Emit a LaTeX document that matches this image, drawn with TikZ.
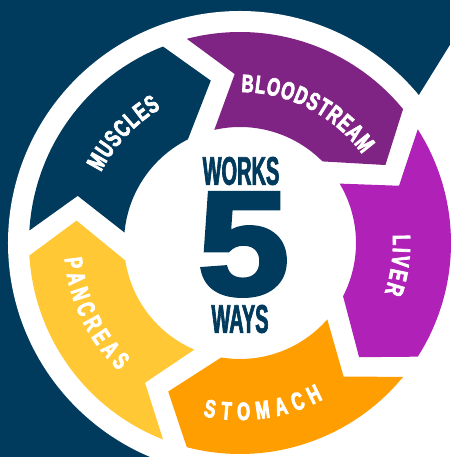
\documentclass[tikz,border=0pt]{standalone}
\usepackage{fontspec}
\setmainfont{Liberation Sans}
\newfontfamily\lblfont[FakeStretch=0.67,FakeBold=3]{Liberation Sans}
\newfontfamily\ctrfont[FakeStretch=0.5,FakeBold=1.6]{Liberation Sans}
\newfontfamily\fivefont[FakeStretch=1.12,FakeBold=3]{Liberation Sans}
\usetikzlibrary{decorations.text}
\definecolor{navy}{HTML}{003A5C}
\definecolor{bloodc}{HTML}{7F2484}
\definecolor{liverc}{HTML}{B021B8}
\definecolor{stomc}{HTML}{FF9E00}
\definecolor{pancc}{HTML}{FFC834}
\newcommand\lblfmt{\lblfont\bfseries\fontsize{25}{26}\selectfont}
\tikzset{
  ringlabel/.style={decorate, decoration={text along path, text color=white, text align=fit to path}},
  ctrtext/.style={inner sep=0pt, text=navy, font=\ctrfont\bfseries\fontsize{40}{41}\selectfont}
}
\begin{document}
\begin{tikzpicture}[x=1pt,y=1pt]
\useasboundingbox (-240,-214) rectangle (210,243);
\fill[navy] (-240,-214) rectangle (210,243);
\fill[white] (210,198) -- (148,98) -- (60,-214) -- (210,-214) -- cycle;
\fill[white] (0,0) circle[radius=232];
\foreach \k/\col in {0/navy,1/bloodc,2/liverc,3/stomc,4/pancc}{
  \pgfmathsetmacro\T{176.6-72*\k}
  \fill[\col] (\T:211) arc[start angle=\T, end angle=\T-65.2, radius=211]
    -- (\T-76.4:165) -- (\T-59.9:116)
    arc[start angle=\T-59.9, end angle=\T-1.8, radius=116]
    -- (\T-12.8:169) -- cycle;
}
% ring labels
\path[ringlabel, decoration={text={|\lblfmt|MUSCLES}}] (153:156) arc[start angle=153, end angle=120.5, radius=156];
\path[ringlabel, decoration={text={|\lblfmt|BLOODSTREAM}}] (89.5:151) arc[start angle=89.5, end angle=36, radius=151];
\path[ringlabel, decoration={text={|\lblfmt|LIVER}}] (3:153) arc[start angle=3, end angle=-19, radius=153];
\path[ringlabel, decoration={text={|\lblfmt|STOMACH}}] (-102:177) arc[start angle=-102, end angle=-62, radius=177];
\path[ringlabel, decoration={text={|\lblfmt|PANCREAS}}] (185:176) arc[start angle=185, end angle=226.5, radius=176];
% centre
\node[ctrtext] (works) at (1,72) {WORKS};
\node[inner sep=0pt, text=navy, font=\fivefont\bfseries\fontsize{147}{147}\selectfont] (five) at (3.5,-1.5) {5};
\node[ctrtext] (ways) at (0,-76) {WAYS};
\end{tikzpicture}
\end{document}
